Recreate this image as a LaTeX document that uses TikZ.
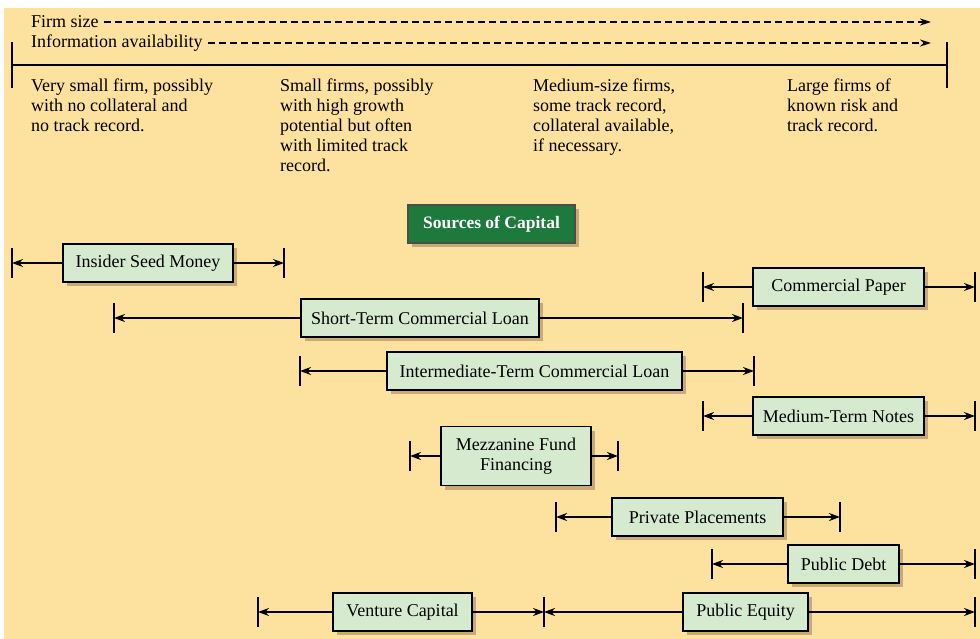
\documentclass[tikz,border=0pt]{standalone}
\usepackage{fontspec}
\setmainfont{Liberation Serif}
\usetikzlibrary{arrows.meta,shadows}
\definecolor{bgpeach}{RGB}{253,225,158}
\definecolor{boxgreen}{RGB}{214,234,208}
\definecolor{titlegreen}{RGB}{30,122,60}
\definecolor{shadowtan}{RGB}{200,170,118}
\tikzset{
  src/.style={draw, line width=1.4pt, fill=boxgreen, minimum height=38pt, inner sep=0pt,
    font=\fontsize{18}{20}\selectfont,
    drop shadow={shadow xshift=4pt, shadow yshift=-4pt, fill=shadowtan, opacity=1}},
  desc/.style={anchor=north west, inner sep=0pt, align=left, font=\fontsize{18}{20}\selectfont},
  span/.style={line width=2pt, -{Stealth[length=11pt,width=8pt]}},
  dashline/.style={line width=2pt, dash pattern=on 7pt off 4pt, -{Stealth[length=11pt,width=7pt]}},
  tick/.style={line width=2.2pt}
}
\begin{document}
\begin{tikzpicture}[x=1pt,y=-1pt]
    \useasboundingbox (0,0) rectangle (980,639);
    \fill[bgpeach] (4,8) rectangle (980,639);

    \node[anchor=west, inner sep=2pt, font=\fontsize{18}{20}\selectfont] (firm) at (29,22) {Firm size};
    \node[anchor=west, inner sep=2pt, font=\fontsize{18}{20}\selectfont] (info) at (29,43) {Information availability};
    \coordinate (firmend) at (931,22);
    \coordinate (infoend) at (931,43);
    \draw[dashline] ([xshift=3pt]firm.east) -- (firmend);
    \draw[dashline] ([xshift=3pt]info.east) -- (infoend);

    \coordinate (scaleL) at (12,65);
    \coordinate (scaleR) at (947,65);
    \draw[tick] (scaleL) -- (scaleR);
    \draw[tick] ([yshift=23pt]scaleL) -- ([yshift=-23pt]scaleL);
    \draw[tick] ([yshift=23pt]scaleR) -- ([yshift=-23pt]scaleR);

    \node[desc] (verysmall) at (31,79) {Very small firm, possibly\\with no collateral and\\no track record.};
    \node[desc] (small) at (280,79) {Small firms, possibly\\with high growth\\potential but often\\with limited track\\record.};
    \node[desc] (medium) at (533,79) {Medium-size firms,\\some track record,\\collateral available,\\if necessary.};
    \node[desc] (large) at (787,79) {Large firms of\\known risk and\\track record.};

    \node[draw=black!70, line width=1.3pt, fill=titlegreen, text=white, minimum width=167pt, minimum height=38pt,
      font=\fontsize{17.5}{20}\selectfont\bfseries,
      drop shadow={shadow xshift=4pt, shadow yshift=-4pt, fill=shadowtan, opacity=1}] (title) at (491.5,224) {Sources of Capital};

    \node[src, minimum width=170pt] (seed) at (148,263) {Insider Seed Money};
    \node[src, minimum width=171pt] (paper) at (838.5,287) {Commercial Paper};
    \node[src, minimum width=238pt] (stcl) at (420,318) {Short-Term Commercial Loan};
    \node[src, minimum width=295pt] (itcl) at (534.5,371) {Intermediate-Term Commercial Loan};
    \node[src, minimum width=171pt] (mtn) at (838.5,416) {Medium-Term Notes};
    \node[src, minimum width=150pt, minimum height=59pt, align=center] (mezz) at (516,456) {Mezzanine Fund\\Financing};
    \node[src, minimum width=171pt] (priv) at (697.5,517) {Private Placements};
    \node[src, minimum width=111pt] (pdebt) at (843.5,564) {Public Debt};
    \node[src, minimum width=139pt] (vc) at (402.5,612) {Venture Capital};
    \node[src, minimum width=125pt] (peq) at (745.5,612) {Public Equity};

    \coordinate (seed-l) at (12,263);   \coordinate (seed-r) at (284,263);
    \coordinate (paper-l) at (703,287); \coordinate (paper-r) at (975,287);
    \coordinate (stcl-l) at (114,318);  \coordinate (stcl-r) at (743,318);
    \coordinate (itcl-l) at (300,371);  \coordinate (itcl-r) at (754,371);
    \coordinate (mtn-l) at (703,416);   \coordinate (mtn-r) at (975,416);
    \coordinate (mezz-l) at (410,456);  \coordinate (mezz-r) at (618,456);
    \coordinate (priv-l) at (556,517);  \coordinate (priv-r) at (840,517);
    \coordinate (pdebt-l) at (712,564); \coordinate (pdebt-r) at (975,564);
    \coordinate (vc-l) at (258,612);    \coordinate (vc-r) at (544,612);
    \coordinate (peq-l) at (544,612);   \coordinate (peq-r) at (975,612);

    \foreach \n in {seed,paper,stcl,itcl,mtn,mezz,priv,pdebt,vc,peq}{
        \draw[span] (\n) -- (\n-l);
        \draw[span] (\n) -- (\n-r);
        \draw[tick] ([yshift=15pt]\n-l) -- ([yshift=-15pt]\n-l);
        \draw[tick] ([yshift=15pt]\n-r) -- ([yshift=-15pt]\n-r);
    }
\end{tikzpicture}
\end{document}
